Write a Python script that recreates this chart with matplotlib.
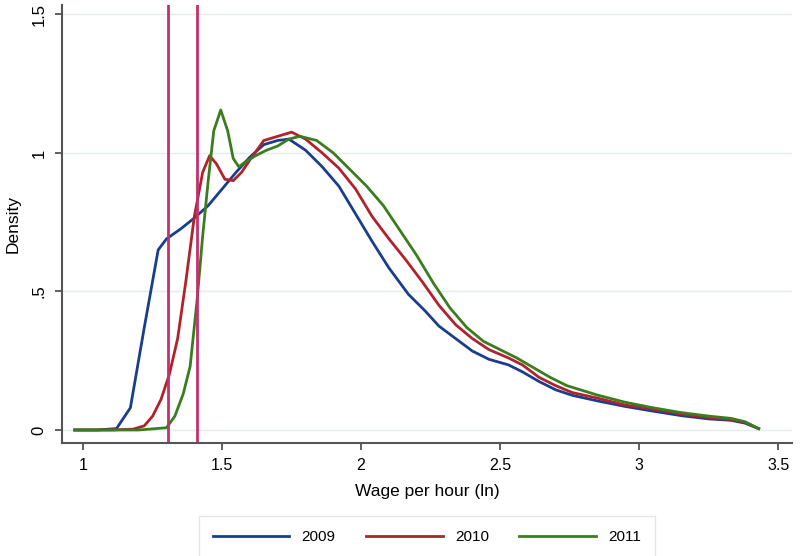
import matplotlib
matplotlib.use("Agg")
import matplotlib.pyplot as plt

plt.rcParams['font.family'] = ['Liberation Sans', 'DejaVu Sans']

x2009 = [0.97, 1.05, 1.12, 1.17, 1.22, 1.27, 1.30, 1.35, 1.40, 1.45, 1.50, 1.55, 1.60, 1.65, 1.70, 1.74,
         1.80, 1.86, 1.92, 1.98, 2.04, 2.10, 2.17, 2.23, 2.28, 2.34, 2.40, 2.46, 2.53, 2.58, 2.64, 2.70,
         2.76, 2.85, 2.95, 3.05, 3.15, 3.25, 3.33, 3.38, 3.43]
y2009 = [0.0, 0.0, 0.005, 0.08, 0.37, 0.65, 0.69, 0.725, 0.765, 0.81, 0.87, 0.93, 0.985, 1.03, 1.045, 1.05,
         1.01, 0.95, 0.88, 0.78, 0.68, 0.585, 0.49, 0.43, 0.375, 0.33, 0.285, 0.255, 0.235, 0.21, 0.175, 0.145,
         0.125, 0.105, 0.085, 0.068, 0.052, 0.04, 0.035, 0.025, 0.005]

x2010 = [0.97, 1.10, 1.18, 1.22, 1.25, 1.28, 1.31, 1.34, 1.37, 1.40, 1.43, 1.455, 1.48, 1.51, 1.54, 1.57,
         1.60, 1.65, 1.70, 1.75, 1.80, 1.86, 1.92, 1.98, 2.04, 2.10, 2.16, 2.22, 2.28, 2.34, 2.40, 2.46,
         2.53, 2.58, 2.64, 2.70, 2.76, 2.85, 2.95, 3.05, 3.15, 3.25, 3.33, 3.38, 3.43]
y2010 = [0.0, 0.0, 0.003, 0.015, 0.05, 0.11, 0.2, 0.33, 0.54, 0.77, 0.93, 0.99, 0.96, 0.905, 0.9, 0.93,
         0.975, 1.045, 1.06, 1.075, 1.05, 1.0, 0.945, 0.87, 0.77, 0.69, 0.615, 0.535, 0.45, 0.38, 0.33, 0.29,
         0.26, 0.235, 0.19, 0.16, 0.135, 0.115, 0.09, 0.075, 0.058, 0.045, 0.038, 0.028, 0.005]

x2011 = [0.97, 1.20, 1.30, 1.33, 1.36, 1.385, 1.41, 1.43, 1.45, 1.47, 1.495, 1.52, 1.54, 1.56, 1.58, 1.62,
         1.66, 1.70, 1.74, 1.78, 1.84, 1.90, 1.96, 2.02, 2.08, 2.14, 2.20, 2.26, 2.32, 2.38, 2.44, 2.50,
         2.56, 2.62, 2.68, 2.74, 2.85, 2.95, 3.05, 3.15, 3.25, 3.33, 3.38, 3.43]
y2011 = [0.0, 0.0, 0.008, 0.05, 0.13, 0.23, 0.47, 0.7, 0.9, 1.08, 1.155, 1.08, 0.98, 0.95, 0.965, 0.99,
         1.01, 1.025, 1.05, 1.06, 1.045, 1.0, 0.94, 0.88, 0.81, 0.72, 0.63, 0.53, 0.44, 0.37, 0.32, 0.29,
         0.26, 0.225, 0.19, 0.16, 0.126, 0.1, 0.08, 0.063, 0.05, 0.042, 0.03, 0.005]

vlines = [1.306, 1.41]
xticks = [1, 1.5, 2, 2.5, 3, 3.5]
xticklabels = ["1", "1.5", "2", "2.5", "3", "3.5"]
yticks = [0, 0.5, 1, 1.5]
yticklabels = ["0", ".5", "1", "1.5"]

fig = plt.figure(figsize=(8.06, 5.56), dpi=100)
ax = fig.add_axes([62/806, 113/556, 730/806, 438/556])

for yt in yticks:
    ax.axhline(yt, color='#e4ecee', lw=1.0, zorder=0)

l1, = ax.plot(x2009, y2009, color='#1a3e8c', lw=2.0, label='2009')
l2, = ax.plot(x2010, y2010, color='#b0222c', lw=2.0, label='2010')
l3, = ax.plot(x2011, y2011, color='#3a7d1e', lw=2.0, label='2011')
for v in vlines:
    ax.axvline(v, color='#c4306c', lw=2.0)

ax.set_xlim(0.924, 3.55)
ax.set_ylim(-0.047, 1.534)
ax.set_xticks(xticks)
ax.set_xticklabels(xticklabels, fontsize=11.5)
ax.set_yticks(yticks)
ax.set_yticklabels(yticklabels, fontsize=12, rotation=90, va='center')
ax.tick_params(axis='both', direction='out', length=5, width=1.2, color='#444444', pad=6)
for s in ['top', 'right']:
    ax.spines[s].set_visible(False)
for s in ['left', 'bottom']:
    ax.spines[s].set_color('#555555')
    ax.spines[s].set_linewidth(1.5)

ax.set_xlabel('Wage per hour (ln)', fontsize=12.5, labelpad=8)
ax.set_ylabel('Density', fontsize=12.5, labelpad=8)

leg = fig.legend(handles=[l1, l2, l3], loc='center', bbox_to_anchor=(427/806, 1 - 537/556),
                 ncol=3, fontsize=11, handlelength=5.0, columnspacing=2.0, handletextpad=0.8,
                 frameon=True, fancybox=False, borderpad=0.9)
leg.get_frame().set_edgecolor('#e0e0e0')
leg.get_frame().set_linewidth(1.0)

fig.savefig('out.png', dpi=100)
